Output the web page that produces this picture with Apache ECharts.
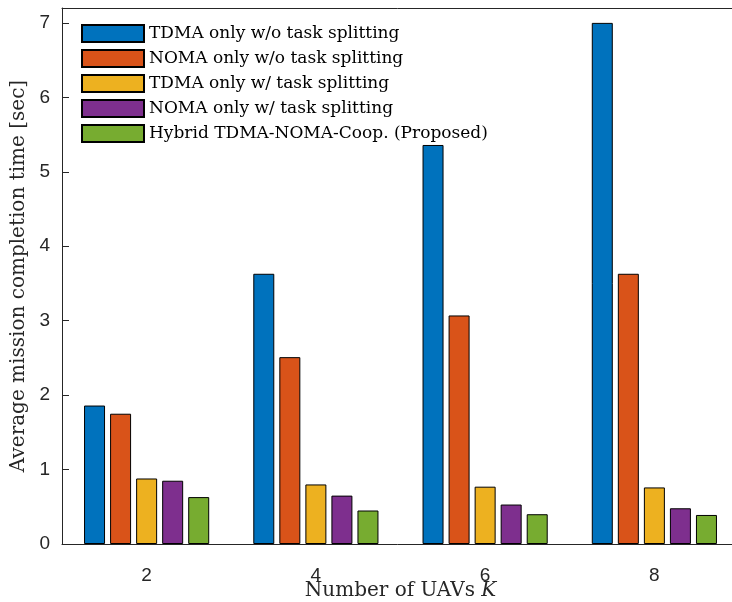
<!DOCTYPE html>
<html>
<head>
<meta charset="utf-8">
<script src="https://cdn.jsdelivr.net/npm/echarts@6/dist/echarts.min.js"></script>
<style>
  html, body { margin: 0; padding: 0; background: #fff; overflow: hidden; }
  #chart { width: 732px; height: 602px; }
</style>
</head>
<body>
<div id="chart"></div>
<script>
// Number of UAVs on the horizontal axis
const uavCounts = ['2', '4', '6', '8'];

// Average mission completion time [sec] per scheme
const tdmaNoSplit   = [1.86, 3.63, 5.36, 7.00];
const nomaNoSplit   = [1.75, 2.51, 3.07, 3.63];
const tdmaSplit     = [0.88, 0.80, 0.77, 0.76];
const nomaSplit     = [0.85, 0.65, 0.53, 0.48];
const hybridCoop    = [0.63, 0.45, 0.40, 0.39];

const seriesNames = [
  'TDMA only w/o task splitting',
  'NOMA only w/o task splitting',
  'TDMA only w/ task splitting',
  'NOMA only w/ task splitting',
  'Hybrid TDMA-NOMA-Coop. (Proposed)'
];
const seriesValues = [tdmaNoSplit, nomaNoSplit, tdmaSplit, nomaSplit, hybridCoop];
const seriesColors = ['#0072BD', '#D95319', '#EDB120', '#7E2F8E', '#77AC30'];

const axisColor = '#262626';
const serif = 'DejaVu Serif';
const sans = 'Liberation Sans';

const chart = echarts.init(document.getElementById('chart'), null, { renderer: 'canvas' });

chart.setOption({
  backgroundColor: '#ffffff',
  animation: false,
  // the plot box runs slightly past the right edge of the canvas
  grid: { left: 62, right: -7, top: 8, bottom: 58, containLabel: false, outerBoundsMode: 'none' },
  legend: {
    orient: 'vertical',
    left: 81, top: 24,
    itemWidth: 62, itemHeight: 17, itemGap: 6,
    icon: 'rect',
    padding: 0,
    textStyle: { fontFamily: serif, fontSize: 17, color: '#000' },
    data: seriesNames
  },
  xAxis: [{
    type: 'category',
    data: uavCounts,
    position: 'bottom',
    z: 5,
    axisLine: { lineStyle: { color: axisColor, width: 1 } },
    axisTick: { inside: true, alignWithLabel: true, length: 7, lineStyle: { color: axisColor } },
    axisLabel: { fontFamily: sans, fontSize: 19, color: axisColor, margin: 22 },
    name: '{a|Number of UAVs }{b|K}',
    nameLocation: 'middle',
    nameGap: 36,
    nameMoveOverlap: false,
    nameTextStyle: {
      lineHeight: 22,
      rich: {
        a: { fontFamily: serif, fontSize: 20, lineHeight: 22, color: axisColor },
        b: { fontFamily: serif, fontSize: 20, lineHeight: 22, fontStyle: 'italic', color: axisColor }
      }
    }
  }, {
    type: 'category',
    data: uavCounts,
    position: 'top',
    z: 5,
    axisLine: { lineStyle: { color: axisColor, width: 1 } },
    axisTick: { inside: true, alignWithLabel: true, length: 7, lineStyle: { color: axisColor } },
    axisLabel: { show: false }
  }],
  yAxis: {
    type: 'value',
    min: 0, max: 7.2, interval: 1,
    z: 5,
    axisLine: { show: true, lineStyle: { color: axisColor, width: 1 } },
    axisTick: { show: true, inside: true, length: 7, lineStyle: { color: axisColor } },
    splitLine: { show: false },
    axisLabel: { fontFamily: sans, fontSize: 19, color: axisColor, margin: 12, showMaxLabel: false },
    name: 'Average mission completion time [sec]',
    nameLocation: 'middle',
    nameGap: 33,
    nameMoveOverlap: false,
    nameTextStyle: { fontFamily: serif, fontSize: 20, color: axisColor }
  },
  series: seriesNames.map((name, i) => ({
    name: name,
    type: 'bar',
    data: seriesValues[i],
    barWidth: 21,
    barGap: '24%',
    itemStyle: { color: seriesColors[i], borderColor: '#000', borderWidth: 1 }
  }))
});
</script>
</body>
</html>
